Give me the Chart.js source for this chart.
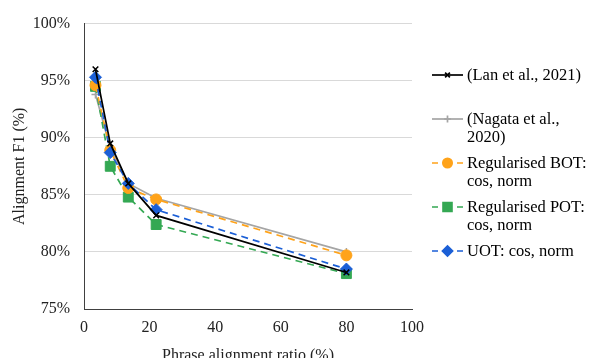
<!DOCTYPE html>
<html>
<head>
<meta charset="utf-8">
<script src="https://cdn.jsdelivr.net/npm/chart.js@4/dist/chart.umd.min.js"></script>
<style>
  html, body { margin: 0; padding: 0; background: #fff; }
  #wrap { width: 589px; height: 358px; }
</style>
</head>
<body>
<div id="wrap"><canvas id="lineChart"></canvas></div>
<script>
// phrase alignment ratio (%)
const ratios = [3.5, 8, 13.5, 22, 80];

// alignment F1 (%)
const lanF1 = [96.0, 89.5, 86.0, 83.2, 78.2];
const nagataF1 = [93.8, 89.1, 86.0, 84.7, 80.0];
const botF1 = [94.6, 88.9, 85.6, 84.6, 79.7];
const potF1 = [94.5, 87.5, 84.8, 82.4, 78.1];
const uotF1 = [95.3, 88.7, 86.0, 83.7, 78.5];

const seriesLabels = [
    ['(Lan et al., 2021)'],
    ['(Nagata et al.,', '2020)'],
    ['Regularised BOT:', 'cos, norm'],
    ['Regularised POT:', 'cos, norm'],
    ['UOT: cos, norm']
];

const xTicks = [0, 20, 40, 60, 80, 100];
const yTicks = [75, 80, 85, 90, 95, 100];

const serif = '"Liberation Serif", "Times New Roman", serif';

function pts(values) {
    return values.map((v, i) => ({ x: ratios[i], y: v }));
}

function series(i, values, color, style, radius, dashed, order) {
    return {
        label: seriesLabels[i].join(' '),
        data: pts(values),
        borderColor: color,
        backgroundColor: color,
        pointBackgroundColor: color,
        pointBorderColor: color,
        borderWidth: 1.7,
        borderDash: dashed ? [7, 5] : [],
        pointStyle: style,
        pointRadius: radius,
        pointHoverRadius: radius,
        pointBorderWidth: style === 'cross' || style === 'crossRot' ? 1.5 : 1,
        tension: 0,
        fill: false,
        order: order
    };
}

// legend drawn at the right of the plot, one entry per dataset
const sideLegend = {
    id: 'sideLegend',
    afterDraw(chart) {
        const ctx = chart.ctx;
        const area = chart.chartArea;
        ctx.save();
        ctx.font = '16.5px ' + serif;
        ctx.textBaseline = 'middle';
        chart.data.datasets.forEach((ds, i) => {
            const y = 75 + i * 44;
            const x0 = area.right + 20;
            const x1 = x0 + 31;
            const xm = (x0 + x1) / 2;
            ctx.strokeStyle = ds.borderColor;
            ctx.lineWidth = ds.borderWidth;
            ctx.setLineDash([]);
            ctx.beginPath();
            if (ds.borderDash.length) {
                ctx.moveTo(x0, y); ctx.lineTo(x0 + 6, y);
                ctx.moveTo(x1 - 6, y); ctx.lineTo(x1, y);
            } else {
                ctx.moveTo(x0, y); ctx.lineTo(x1, y);
            }
            ctx.stroke();
            ctx.fillStyle = ds.pointBackgroundColor;
            ctx.strokeStyle = ds.pointBorderColor;
            Chart.helpers.drawPoint(ctx, {
                pointStyle: ds.pointStyle,
                radius: ds.pointStyle === 'rect' ? ds.pointRadius * 0.9 : ds.pointRadius * 0.85,
                rotation: 0,
                borderWidth: ds.pointBorderWidth
            }, xm, y);
            ctx.fillStyle = '#000';
            seriesLabels[i].forEach((line, j) => {
                ctx.fillText(line, x1 + 4, y + 1 + j * 17.5);
            });
        });
        ctx.restore();
    }
};

const ctx = document.getElementById('lineChart').getContext('2d');
const myChart = new Chart(ctx, {
    type: 'line',
    data: {
        datasets: [
            series(0, lanF1, '#000000', 'crossRot', 4, false, 0),
            series(1, nagataF1, '#a5a5a5', 'cross', 4, false, 4),
            series(2, botF1, '#ffa31a', 'circle', 5.5, true, 2),
            series(3, potF1, '#34a853', 'rect', 7, true, 3),
            series(4, uotF1, '#1b5fd6', 'rectRot', 6, true, 1)
        ]
    },
    options: {
        responsive: true,
        maintainAspectRatio: false,
        animation: false,
        layout: { padding: { top: 21, right: 177, left: 0, bottom: 0 } },
        plugins: {
            legend: { display: false },
            tooltip: { enabled: false }
        },
        scales: {
            x: {
                type: 'linear',
                min: 0,
                max: 100,
                afterBuildTicks: (scale) => { scale.ticks = xTicks.map(v => ({ value: v })); },
                afterFit: (scale) => { scale.height = 49; },
                ticks: {
                    padding: 9,
                    color: '#222',
                    font: { family: serif, size: 16 },
                    maxRotation: 0
                },
                grid: { display: false, drawTicks: false },
                border: { display: true, color: '#404040', width: 1 },
                title: {
                    display: true,
                    text: 'Phrase alignment ratio (%)',
                    color: '#222',
                    font: { family: serif, size: 16 },
                    padding: { top: 0, bottom: -7 }
                }
            },
            y: {
                min: 75,
                max: 100,
                afterBuildTicks: (scale) => { scale.ticks = yTicks.map(v => ({ value: v })); },
                afterFit: (scale) => { scale.width = 84; },
                ticks: {
                    padding: 14,
                    color: '#222',
                    font: { family: serif, size: 16 },
                    callback: (v) => v + '%'
                },
                grid: { color: '#d9d9d9', lineWidth: 1, drawTicks: false },
                border: { display: true, color: '#404040', width: 1 },
                title: {
                    display: true,
                    text: 'Alignment F1 (%)',
                    color: '#222',
                    font: { family: serif, size: 16 },
                    padding: { top: 10, bottom: 0 }
                }
            }
        }
    },
    plugins: [sideLegend]
});
</script>
</body>
</html>
